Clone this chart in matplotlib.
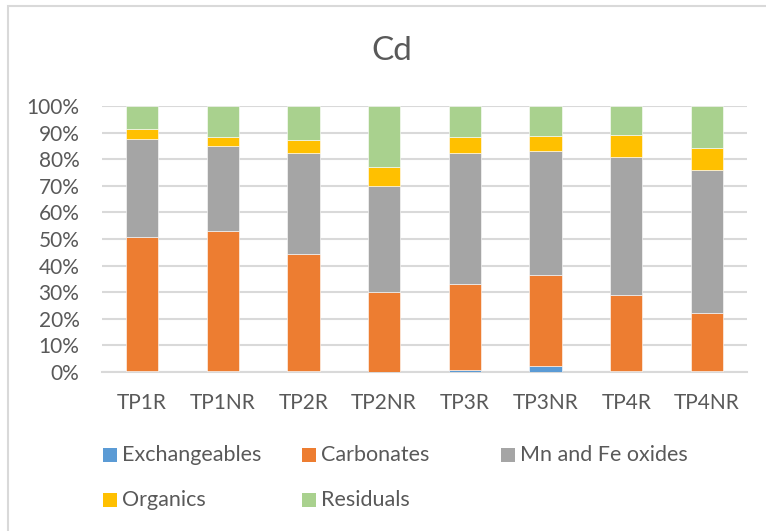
import matplotlib
matplotlib.use("Agg")
import matplotlib.pyplot as plt
from matplotlib.patches import Rectangle
import numpy as np

categories = ["TP1R", "TP1NR", "TP2R", "TP2NR", "TP3R", "TP3NR", "TP4R", "TP4NR"]
series_names = ["Exchangeables", "Carbonates", "Mn and Fe oxides", "Organics", "Residuals"]
exchangeables = [0.2, 0.5, 0.2, 0.1, 0.75, 2.4, 0.5, 0.3]
carbonates = [50.5, 52.6, 44.3, 30.0, 32.25, 34.1, 28.6, 22.0]
mn_fe_oxides = [37.0, 31.8, 37.8, 39.9, 49.4, 46.6, 51.8, 53.6]
organics = [3.8, 3.6, 4.8, 6.9, 5.8, 5.7, 8.1, 8.3]
residuals = [8.5, 11.5, 12.9, 23.1, 11.8, 11.2, 11.0, 15.8]
colors = ["#5B9BD5", "#ED7D31", "#A5A5A5", "#FFC000", "#A9D18E"]
yticks = [0, 10, 20, 30, 40, 50, 60, 70, 80, 90, 100]

plt.rcParams['font.family'] = ['Lato', 'DejaVu Sans']
txt = "#595959"

W, H = 766, 531
fig = plt.figure(figsize=(W / 100, H / 100), dpi=100)
ax = fig.add_axes([101.6 / W, (H - 372) / H, (747.3 - 101.6) / W, (372 - 106) / H])

data = np.array([exchangeables, carbonates, mn_fe_oxides, organics, residuals])
data = data / data.sum(axis=0) * 100
x = np.arange(len(categories))
bottom = np.zeros(len(categories))
for name, vals, c in zip(series_names, data, colors):
    ax.bar(x, vals, 0.40, bottom=bottom, color=c, label=name, zorder=3,
           edgecolor="white", linewidth=0.4)
    bottom += vals

ax.set_xlim(-0.5, len(categories) - 0.5)
ax.set_ylim(0, 100)
ax.set_yticks(yticks)
ax.set_yticklabels([f"{v}%" for v in yticks])
ax.set_xticks(x)
ax.set_xticklabels(categories)
ax.yaxis.grid(True, color="#D9D9D9", linewidth=1.5, zorder=0)
ax.set_axisbelow(True)
for s in ["top", "right", "left"]:
    ax.spines[s].set_visible(False)
ax.spines["bottom"].set_color("#D9D9D9")
ax.spines["bottom"].set_linewidth(1.5)
ax.tick_params(axis="both", length=0, colors=txt, labelsize=15)
ax.tick_params(axis="y", pad=16)
ax.tick_params(axis="x", pad=15)

fig.text(392 / W, 1 - 51 / H, "Cd", ha="center", va="center", fontsize=24, color=txt)

# legend
leg_x = [103, 302, 501]
leg_y = [455, 500]
for i, (name, c) in enumerate(zip(series_names, colors)):
    col = i % 3
    row = i // 3
    sx = leg_x[col]
    sy = leg_y[row]
    fig.patches.append(Rectangle((sx / W, 1 - (sy + 7) / H), 14 / W, 14 / H,
                                 transform=fig.transFigure, facecolor=c, edgecolor="none"))
    fig.text((sx + 19) / W, 1 - sy / H, name, ha="left", va="center", fontsize=15.5, color=txt)

# chart border
fig.patches.append(Rectangle((8 / W, -0.05), 1.2, 1 - 6 / H + 0.05, transform=fig.transFigure,
                             facecolor="none", edgecolor="#D9D9D9", linewidth=1.5))

fig.savefig("out.png", dpi=100, facecolor="white")
